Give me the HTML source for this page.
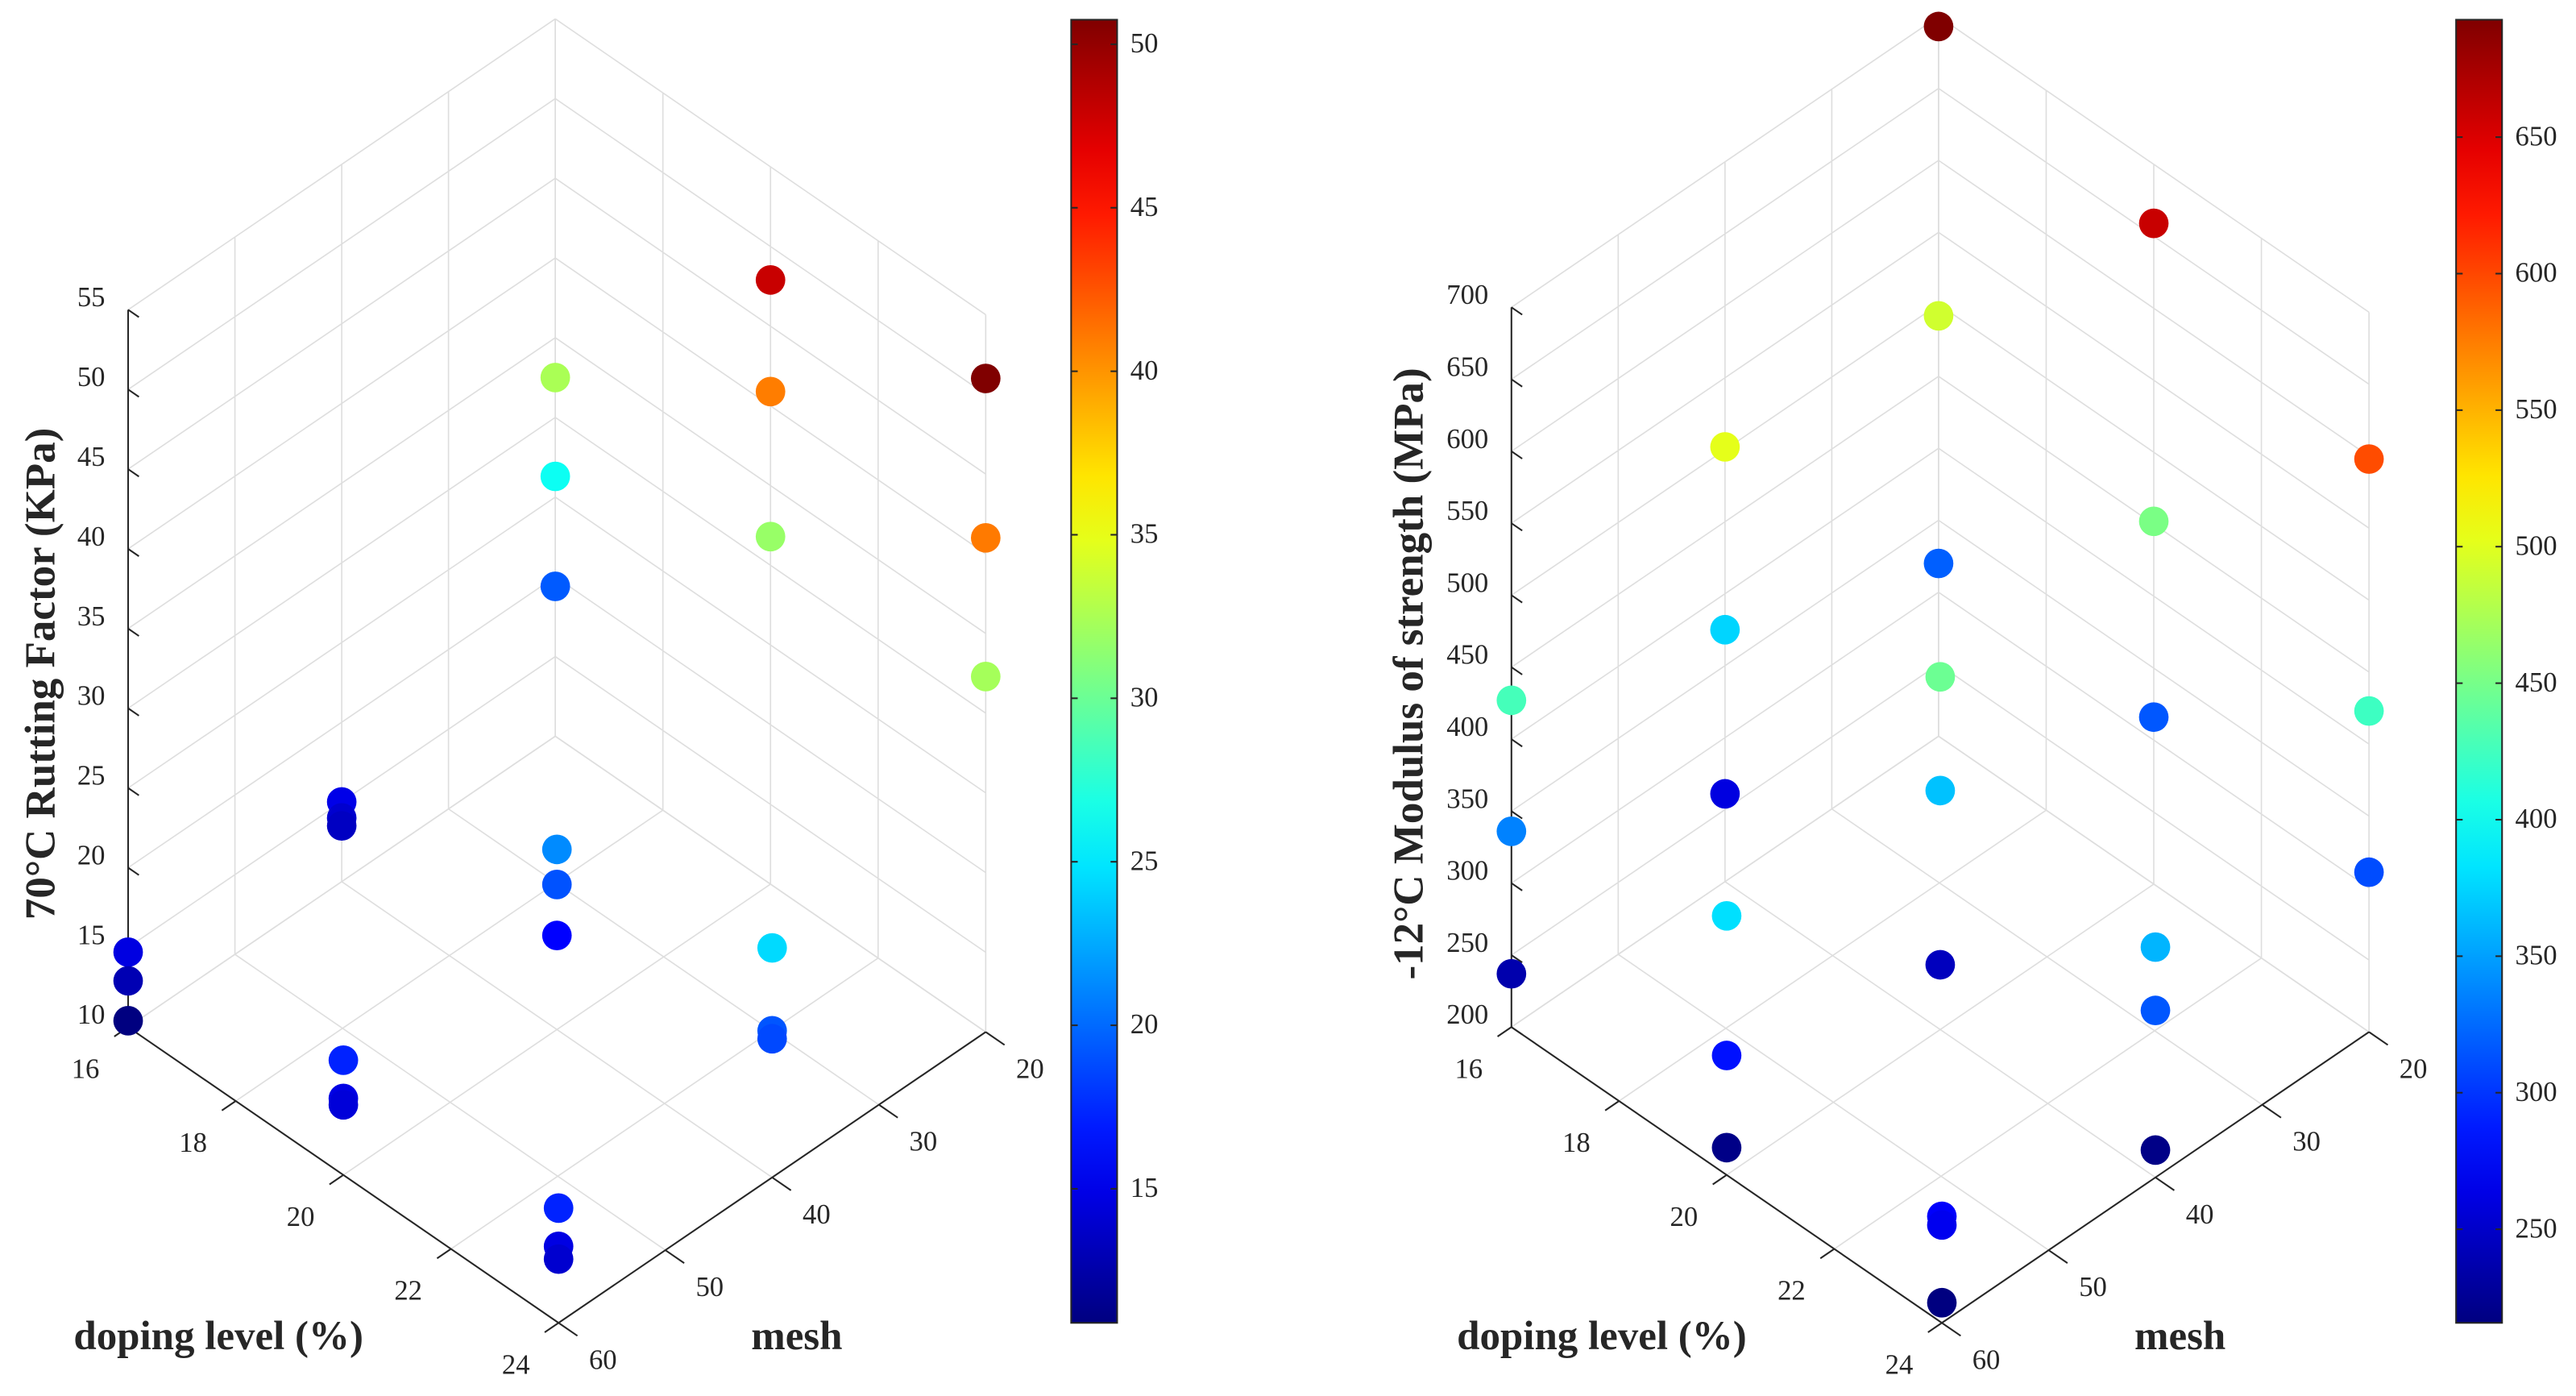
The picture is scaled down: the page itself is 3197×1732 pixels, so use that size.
<!DOCTYPE html>
<html><head><meta charset="utf-8"><style>
html,body{margin:0;padding:0;background:#fff;}
svg{display:block;}
text{font-family:"Liberation Serif",serif;fill:#262626;}
</style></head><body>
<svg id="fig" width="3197" height="1732" viewBox="0 0 1568 849.5" preserveAspectRatio="none" xmlns="http://www.w3.org/2000/svg">
<defs>
<linearGradient id="jetgrad" x1="0" y1="1" x2="0" y2="0"></linearGradient>
</defs>
<rect x="0" y="0" width="1568" height="849.5" fill="#fff"/>
<g id="chartL"></g>
<g id="chartR"></g>
</svg>
<script>
// ---- Left chart data ----
const dopingL = [16,16,16, 16,16,16, 16,16,16, 20,20,20, 20,20,20, 20,20,20, 24,24,24, 24,24,24, 24,24,24];
const meshL   = [60,60,60, 40,40,40, 20,20,20, 60,60,60, 40,40,40, 20,20,20, 60,60,60, 40,40,40, 20,20,20];
const valueL  = [14.7,12.9,10.4, 15,14,13.5, 32.5,26.3,19.4, 17.2,14.8,14.4, 21.3,19.1,15.9, 47.9,40.9,31.8, 17.2,14.8,14, 24.4,19.2,18.7, 51,41,32.3];
const zTicksL = [10,15,20,25,30,35,40,45,50,55];
const cbTicksL = [15,20,25,30,35,40,45,50];
// ---- Right chart data ----
const dopingR = [16,16,16, 16,16,16, 16,16,16, 20,20,20, 20,20,20, 20,20,20, 24,24,24, 24,24,24, 24,24,24];
const meshR   = [60,60,60, 40,40,40, 20,20,20, 60,60,60, 40,40,40, 20,20,20, 60,60,60, 40,40,40, 20,20,20];
const valueR  = [427,336,237, 502,375,261, 693,492,320, 380,283,219, 445,366,245, 659,452,316, 274,268,214, 360,316,219, 598,423,311];
const zTicksR = [200,250,300,350,400,450,500,550,600,650,700];
const cbTicksR = [250,300,350,400,450,500,550,600,650];
// shared axis ticks
const dopingTicks = [16,18,20,22,24];
const meshTicks = [20,30,40,50,60];

const NS = "http://www.w3.org/2000/svg";
function mk(tag, attrs, parent){
  const e = document.createElementNS(NS, tag);
  for (const k in attrs) e.setAttribute(k, attrs[k]);
  parent.appendChild(e);
  return e;
}
function jet(t){
  t = Math.max(0, Math.min(1, t));
  const c = v => Math.round(255*Math.max(0, Math.min(1, v)));
  return `rgb(${c(1.5-Math.abs(4*t-3))},${c(1.5-Math.abs(4*t-2))},${c(1.5-Math.abs(4*t-1))})`;
}
const grad = document.getElementById('jetgrad');
for (let i=0;i<=20;i++){
  const s = document.createElementNS(NS,'stop');
  s.setAttribute('offset', (i/20));
  s.setAttribute('stop-color', jet(i/20));
  grad.appendChild(s);
}

function drawChart(g, cfg){
  const {ox, z0, zmax, zs, dop, mesh, val, zTicks, cbX, cbMin, cbMax, cbTicks, zLabel, zLabelX} = cfg;
  const P = (d,m,z) => [ox + (d-16)*32.75 + (60-m)*6.5, 625 + (d-16)*22.5 - (60-m)*4.425 - (z-z0)*zs];
  const line = (a,b,st,w,name) => {
    const l = mk('line',{x1:a[0],y1:a[1],x2:b[0],y2:b[1],stroke:st,'stroke-width':w},g);
    
    
  };
  const gc = '#dedede';
  meshTicks.forEach(m => line(P(16,m,z0),P(16,m,zmax),gc,0.8,'gridline'));
  zTicks.forEach(z => line(P(16,60,z),P(16,20,z),gc,0.8,'gridline'));
  dopingTicks.forEach(d => line(P(d,20,z0),P(d,20,zmax),gc,0.8,'gridline'));
  zTicks.forEach(z => line(P(16,20,z),P(24,20,z),gc,0.8,'gridline'));
  dopingTicks.forEach(d => line(P(d,60,z0),P(d,20,z0),gc,0.8,'gridline'));
  meshTicks.forEach(m => line(P(16,m,z0),P(24,m,z0),gc,0.8,'gridline'));
  const ac = '#262626';
  line(P(16,60,z0),P(16,60,zmax),ac,1,'z-axis');
  line(P(16,60,z0),P(24,60,z0),ac,1,'doping-axis');
  line(P(24,60,z0),P(24,20,z0),ac,1,'mesh-axis');
  zTicks.forEach(z => {
    const p = P(16,60,z), q = P(16.2,60,z);
    line(p,q,ac,1,'z-tick');
    const t = mk('text',{x:ox-14,y:p[1]-2,'text-anchor':'end','font-size':17},g);
    t.textContent = z;
    
    
  });
  dopingTicks.forEach(d => {
    const p = P(d,60,z0), q = P(d,61.3,z0);
    line(p,q,ac,1,'doping-tick');
    const t = mk('text',{x:p[0]-26,y:p[1]+31,'text-anchor':'middle','font-size':17},g);
    t.textContent = d;
    
    
  });
  meshTicks.forEach(m => {
    const p = P(24,m,z0), q = P(24.35,m,z0);
    line(p,q,ac,1,'mesh-tick');
    const t = mk('text',{x:p[0]+27,y:p[1]+28,'text-anchor':'middle','font-size':17},g);
    t.textContent = m;
    
    
  });
  let t = mk('text',{x:ox+55,y:821,'text-anchor':'middle','font-size':25,'font-weight':'bold'},g);
  t.textContent = 'doping level (%)';
  
  
  t = mk('text',{x:ox+407,y:821,'text-anchor':'middle','font-size':25,'font-weight':'bold'},g);
  t.textContent = 'mesh';
  
  
  t = mk('text',{x:0,y:0,'text-anchor':'middle','font-size':26,'font-weight':'bold',transform:`translate(${zLabelX},410) rotate(-90)`},g);
  t.textContent = zLabel;
  
  
  for (let i=0;i<val.length;i++){
    const p = P(dop[i], mesh[i], val[i]);
    const c = mk('circle',{cx:p[0],cy:p[1],r:9,fill:jet((val[i]-cbMin)/(cbMax-cbMin))},g);
    
    
  }
  const cbTop = 12, cbBot = 805, cbW = 28;
  const r = mk('rect',{x:cbX,y:cbTop,width:cbW,height:cbBot-cbTop,fill:'url(#jetgrad)',stroke:'#262626','stroke-width':1},g);
  
  
  const cy = v => cbBot - (v-cbMin)/(cbMax-cbMin)*(cbBot-cbTop);
  cbTicks.forEach(v => {
    const y = cy(v);
    line([cbX,y],[cbX+4,y],ac,1,'colorbar-tick');
    line([cbX+cbW-4,y],[cbX+cbW,y],ac,1,'colorbar-tick');
    const tt = mk('text',{x:cbX+cbW+8,y:y+5,'font-size':17},g);
    tt.textContent = v;
    
    
  });
}

drawChart(document.getElementById('chartL'), {
  ox:78, z0:10, zmax:55, zs:9.7, dop:dopingL, mesh:meshL, val:valueL, zTicks:zTicksL,
  cbX:652, cbMin:10.9, cbMax:50.75, cbTicks:cbTicksL, zLabel:'70°C Rutting Factor (KPa)', zLabelX:33
});
drawChart(document.getElementById('chartR'), {
  ox:920, z0:200, zmax:700, zs:0.876, dop:dopingR, mesh:meshR, val:valueR, zTicks:zTicksR,
  cbX:1495, cbMin:215.7, cbMax:693, cbTicks:cbTicksR, zLabel:'-12°C Modulus of strength (MPa)', zLabelX:866
});
</script>
</body></html>
